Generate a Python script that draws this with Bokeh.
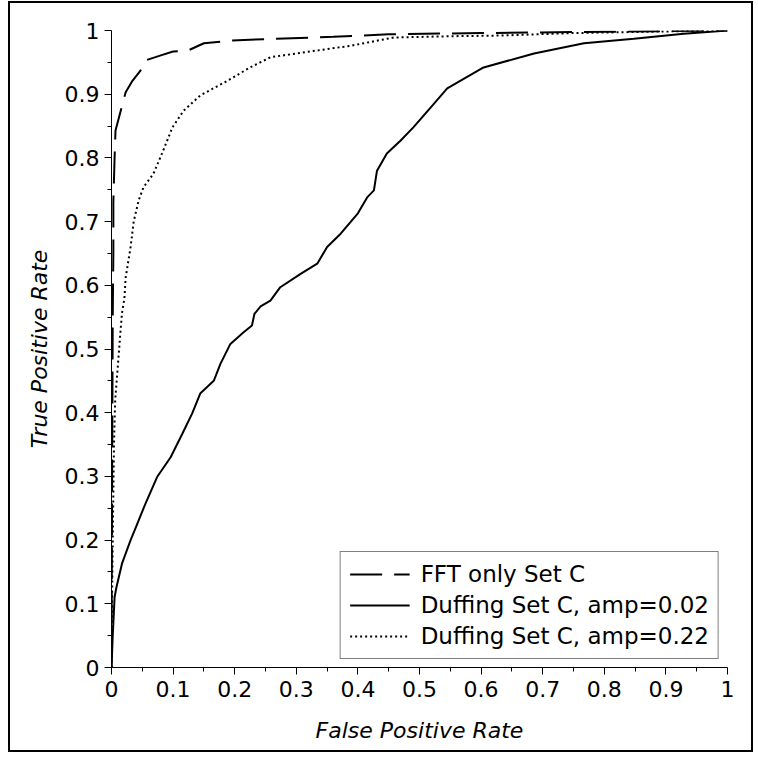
from bokeh.plotting import figure
from bokeh.models import Range1d, FixedTicker, CustomJSTickFormatter, Legend, LegendItem
from bokeh.embed import file_html
from bokeh.resources import INLINE

# ---- data ----
fpr_fft = [0, 0.001, 0.002, 0.003, 0.003, 0.005, 0.0065, 0.015, 0.023, 0.034, 0.047, 0.055,
           0.08, 0.10, 0.125, 0.15, 0.193, 0.26, 0.36, 0.45, 0.6, 0.8, 1.0]
tpr_fft = [0, 0.3, 0.55, 0.65, 0.73, 0.80, 0.843, 0.874, 0.903, 0.921, 0.937, 0.953,
           0.961, 0.967, 0.969, 0.98, 0.984, 0.987, 0.99, 0.994, 0.996, 0.998, 1.0]

fpr_a002 = [0, 0.002, 0.005, 0.008, 0.017, 0.031, 0.042, 0.055, 0.074, 0.096, 0.115, 0.131,
            0.144, 0.166, 0.177, 0.193, 0.214, 0.228, 0.232, 0.242, 0.258, 0.274, 0.307,
            0.334, 0.35, 0.372, 0.40, 0.415, 0.426, 0.431, 0.447, 0.469, 0.49, 0.518,
            0.545, 0.604, 0.686, 0.767, 0.848, 0.929, 1.0]
tpr_a002 = [0, 0.05, 0.11, 0.126, 0.163, 0.2, 0.226, 0.257, 0.299, 0.33, 0.367, 0.399,
            0.43, 0.45, 0.477, 0.508, 0.526, 0.537, 0.555, 0.567, 0.576, 0.597, 0.618,
            0.634, 0.66, 0.681, 0.713, 0.738, 0.749, 0.78, 0.807, 0.827, 0.848, 0.879,
            0.909, 0.942, 0.964, 0.98, 0.987, 0.995, 1.0]

fpr_a022 = [0, 0.001, 0.002, 0.004, 0.006, 0.01, 0.014, 0.017, 0.021, 0.023, 0.031, 0.036,
            0.044, 0.052, 0.068, 0.082, 0.099, 0.117, 0.144, 0.188, 0.225, 0.258, 0.307,
            0.388, 0.458, 0.55, 0.627, 0.75, 0.93, 1.0]
tpr_a022 = [0, 0.12, 0.2, 0.35, 0.42, 0.47, 0.52, 0.556, 0.58, 0.612, 0.66, 0.70,
            0.733, 0.754, 0.775, 0.807, 0.848, 0.874, 0.898, 0.921, 0.942, 0.958, 0.965,
            0.976, 0.989, 0.991, 0.992, 0.996, 0.999, 1.0]

series_labels = ["FFT only Set C", "Duffing Set C, amp=0.02", "Duffing Set C, amp=0.22"]
major_ticks = [0, 0.1, 0.2, 0.3, 0.4, 0.5, 0.6, 0.7, 0.8, 0.9, 1.0]
minor_ticks = [0.05, 0.15, 0.25, 0.35, 0.45, 0.55, 0.65, 0.75, 0.85, 0.95]

FONT = "DejaVu Sans"

p = figure(width=745, height=751, output_backend="svg", toolbar_location=None,
           x_range=Range1d(0, 1), y_range=Range1d(0, 1),
           min_border_left=101, min_border_top=27, min_border_right=28, min_border_bottom=87)
p.styles = {"border": "2px solid black", "margin-left": "8px", "margin-top": "1px"}
p.grid.visible = False
p.outline_line_color = None
p.background_fill_color = "white"
p.border_fill_color = "white"

r_fft = p.line(fpr_fft, tpr_fft, line_color="black", line_width=2, line_dash="32 12")
r_a002 = p.line(fpr_a002, tpr_a002, line_color="black", line_width=2)
r_a022 = p.line(fpr_a022, tpr_a022, line_color="black", line_width=2, line_dash="2 3")

fmt = CustomJSTickFormatter(code="return tick.toFixed(1).replace(/\\.0$/, '');")
for ax in (p.xaxis[0], p.yaxis[0]):
    ax.ticker = FixedTicker(ticks=major_ticks, minor_ticks=minor_ticks)
    ax.formatter = fmt
    ax.axis_line_color = "black"
    ax.major_tick_line_color = "black"
    ax.minor_tick_line_color = "black"
    ax.major_tick_out = 7
    ax.major_tick_in = 0
    ax.minor_tick_out = 4
    ax.minor_tick_in = 0
    ax.major_label_text_font = FONT
    ax.major_label_text_font_size = "22px"
    ax.major_label_text_color = "black"
    ax.axis_label_text_font = FONT
    ax.axis_label_text_font_size = "22px"
    ax.axis_label_text_font_style = "italic"
    ax.axis_label_text_color = "black"

p.xaxis[0].axis_label = "False Positive Rate"
p.yaxis[0].axis_label = "True Positive Rate"
p.xaxis[0].major_label_standoff = 6
p.yaxis[0].major_label_standoff = 5
p.xaxis[0].axis_label_standoff = 18
p.yaxis[0].axis_label_standoff = 10

legend = Legend(items=[LegendItem(label=series_labels[0], renderers=[r_fft]),
                       LegendItem(label=series_labels[1], renderers=[r_a002]),
                       LegendItem(label=series_labels[2], renderers=[r_a022])],
                location="bottom_right", margin=8, padding=9, spacing=5,
                glyph_width=60, label_standoff=11,
                label_text_font=FONT, label_text_font_size="23px", label_text_color="black",
                border_line_color="black", border_line_width=1, background_fill_alpha=1)
p.add_layout(legend)

open("out.html", "w").write(file_html(p, INLINE))
